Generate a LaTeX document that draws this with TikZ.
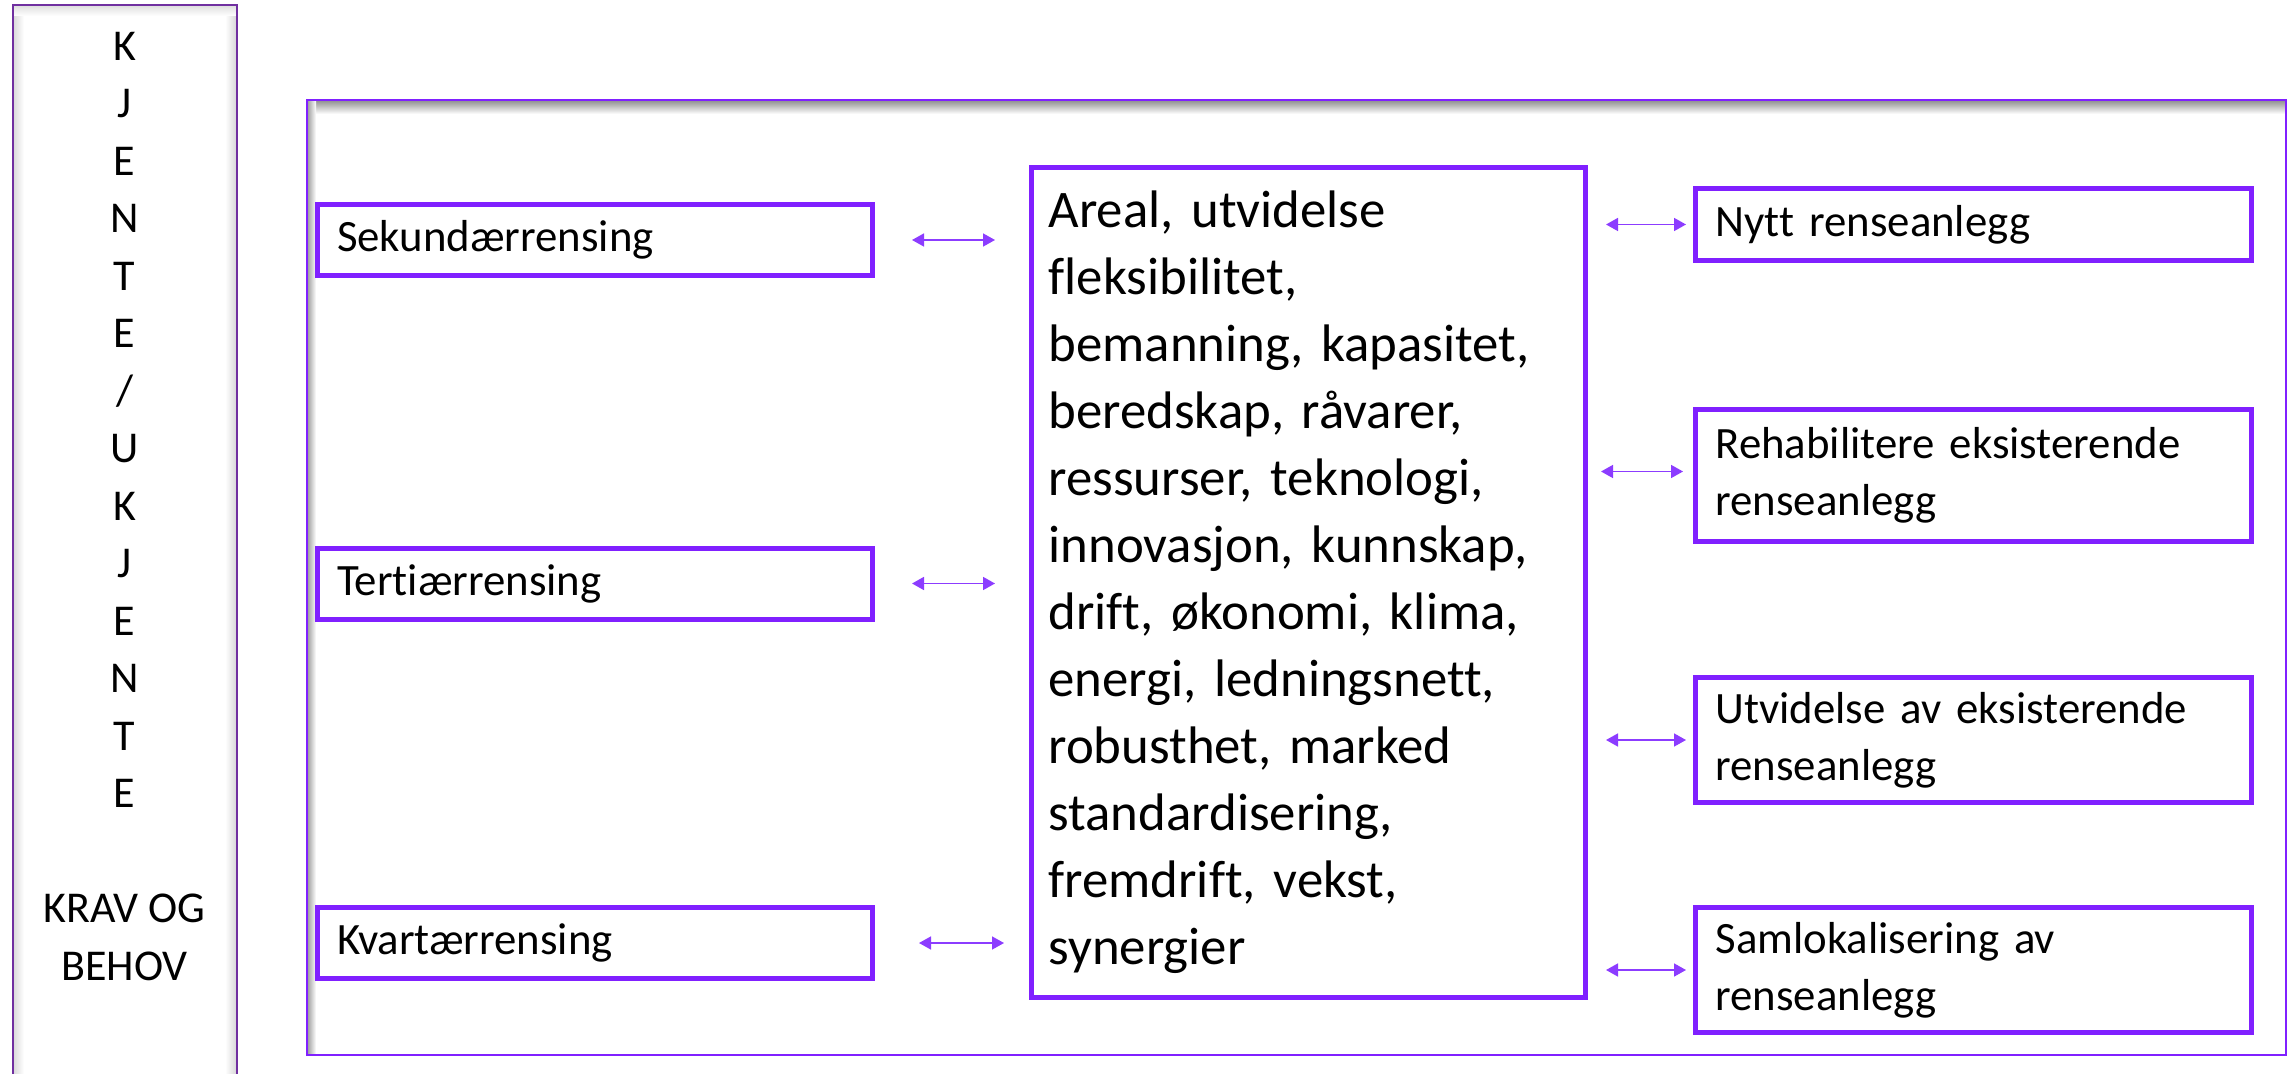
\documentclass[tikz,border=0pt]{standalone}
\usepackage{fontspec}
\setmainfont{Carlito}[Ligatures=NoCommon]
\usetikzlibrary{arrows.meta}
\definecolor{vio}{RGB}{128,32,255}
\definecolor{leftvio}{RGB}{112,48,160}
\definecolor{arrvio}{RGB}{140,60,255}
\begin{document}
\frenchspacing
\begin{tikzpicture}[x=0.5pt,y=-0.5pt,
  sbox/.style={draw=vio, line width=2.5pt, fill=white, minimum width=277.5pt,
    text width=258pt, inner xsep=9.75pt, inner ysep=0pt, align=left,
    font=\fontsize{22.4}{28.5}\selectfont},
  cbox/.style={draw=vio, line width=2.5pt, fill=white, minimum width=277pt,
    minimum height=415pt, text width=260pt, inner xsep=8.5pt, inner ysep=0pt,
    align=left, font=\fontsize{26.4}{33.5}\selectfont},
  dblarr/.style={arrvio, line width=0.8pt,
    {Triangle[length=6pt,width=6.5pt]}-{Triangle[length=6pt,width=6.5pt]}}]
\useasboundingbox (0,0) rectangle (2295,1074);
\fill[white] (0,0) rectangle (2295,1074);

% left vertical box
\shade[left color=black!15, right color=white] (13,6) rectangle (24,1074);
\shade[left color=white, right color=black!15] (225,6) rectangle (236,1074);
\shade[top color=black!12, bottom color=white] (13,6) rectangle (236,16);
\draw[leftvio, line width=1pt] (12.5,5) rectangle (236.5,1080);
\node[font=\fontsize{22}{28.75}\selectfont, align=center, inner sep=0pt] (kj) at (124.5,506.5)
  {K\\J\\E\\N\\T\\E\\/\\U\\K\\J\\E\\N\\T\\E\\[28.75pt]KRAV OG\\BEHOV};

% outer frame with inner shadow
\shade[top color=black!45, bottom color=white] (307,100) rectangle (2286,114);
\shade[left color=black!40, right color=white] (307,100) rectangle (316,1055);
\draw[vio, line width=1pt] (307,100) rectangle (2286,1055);

% left boxes
\node[sbox, minimum height=35.5pt] (sek) at (595,240) {Sekundærrensing};
\node[sbox, minimum height=35.5pt] (ter) at (595,583.5) {Tertiærrensing};
\node[sbox, minimum height=35.5pt] (kva) at (595,943) {Kvartærrensing};

% centre box
\node[cbox] (mid) at (1308.5,582.5) {Areal, utvidelse\\fleksibilitet,\\bemanning, kapasitet,\\beredskap, råvarer,\\ressurser, teknologi,\\innovasjon, kunnskap,\\drift, økonomi, klima,\\energi, ledningsnett,\\robusthet, marked\\standardisering,\\fremdrift, vekst,\\synergier};

% right boxes
\node[sbox, minimum width=278pt, minimum height=36pt] (nytt) at (1973.5,224.5) {Nytt renseanlegg};
\node[sbox, minimum width=278pt, minimum height=66pt] (reh) at (1973.5,475.5) {Rehabilitere eksisterende\\renseanlegg};
\node[sbox, minimum width=278pt, minimum height=62.5pt] (utv) at (1973.5,740) {Utvidelse av eksisterende\\renseanlegg};
\node[sbox, minimum width=278pt, minimum height=62.5pt] (sam) at (1973.5,970) {Samlokalisering av\\renseanlegg};

% arrows
\coordinate (m1) at (mid.west |- sek.east);
\coordinate (m2) at (mid.west |- ter.east);
\coordinate (m3) at (mid.west |- kva.east);
\coordinate (r1) at (mid.east |- nytt.west);
\coordinate (r2) at (mid.east |- reh.west);
\coordinate (r3) at (mid.east |- utv.west);
\coordinate (r4) at (mid.east |- sam.west);
\draw[dblarr] ([xshift=18.5pt]sek.east) -- ([xshift=-17pt]m1);
\draw[dblarr] ([xshift=18.5pt]ter.east) -- ([xshift=-17pt]m2);
\draw[dblarr] ([xshift=22pt]kva.east) -- ([xshift=-12.5pt]m3);
\draw[dblarr] ([xshift=9pt]r1) -- ([xshift=-3.5pt]nytt.west);
\draw[dblarr] ([xshift=6.5pt,yshift=2pt]r2) -- ([xshift=-5pt,yshift=2pt]reh.west);
\draw[dblarr] ([xshift=9pt]r3) -- ([xshift=-3.5pt]utv.west);
\draw[dblarr] ([xshift=9pt]r4) -- ([xshift=-3.5pt]sam.west);
\end{tikzpicture}
\end{document}
